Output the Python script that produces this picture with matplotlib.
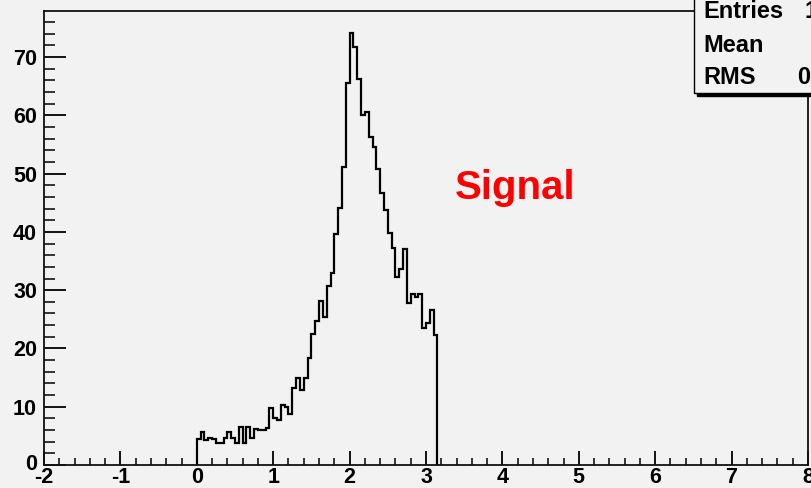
import numpy as np
import matplotlib
matplotlib.use("Agg")
import matplotlib.pyplot as plt
import matplotlib.transforms as mtransforms
from matplotlib.patches import Rectangle
from matplotlib.ticker import MultipleLocator

# Histogram definition: bins of width 0.05 starting at 0
bin_start = 0.0
bin_width = 0.05
counts = [4.4, 5.6, 4.3, 4.7, 4.5, 3.7, 3.7, 4.7, 5.6, 4.7,
          3.7, 6.6, 3.7, 6.6, 4.7, 6.2, 6.0, 6.0, 6.4, 9.7,
          8.0, 7.7, 10.3, 10.0, 8.7, 13.2, 14.9, 12.8, 14.9, 18.3,
          22.4, 24.7, 28.1, 25.4, 30.8, 33.0, 39.7, 44.1, 51.2, 65.6,
          74.2, 71.8, 66.3, 60.0, 60.6, 56.3, 54.5, 50.8, 46.6, 43.8,
          39.8, 37.2, 32.3, 33.6, 37.0, 27.8, 29.3, 28.9, 29.3, 23.5,
          24.3, 26.6, 22.3]
x_range = (-2, 8)
x_ticks = [-2, -1, 0, 1, 2, 3, 4, 5, 6, 7, 8]
y_ticks = [0, 10, 20, 30, 40, 50, 60, 70]
stat_names = ["Entries", "Mean", "RMS"]
title_text = "Signal"

counts = np.asarray(counts)
edges = bin_start + bin_width * np.arange(len(counts) + 1)
centers = 0.5 * (edges[:-1] + edges[1:])
entries = int(round(counts.sum()))
mean = np.sum(counts * centers) / counts.sum()
rms = np.sqrt(np.sum(counts * (centers - mean) ** 2) / counts.sum())

bg = "#f2f2f2"
W, H = 811, 488
fig = plt.figure(figsize=(W / 100, H / 100), dpi=100, facecolor=bg)
ax = fig.add_axes([44 / W, 1 - 465 / H, (808 - 44) / W, (465 - 11) / H])
ax.set_facecolor(bg)

ax.stairs(counts, edges, baseline=0, color="black", linewidth=1.6)

ax.set_xlim(*x_range)
ax.set_ylim(0, counts.max() * 1.05)
ax.set_xticks(x_ticks)
ax.set_yticks(y_ticks)
ax.xaxis.set_minor_locator(MultipleLocator(0.2))
ax.yaxis.set_minor_locator(MultipleLocator(2))

for s in ax.spines.values():
    s.set_linewidth(1.3)
    s.set_color("#111111")

lab_font = dict(family="Liberation Sans", weight="bold", size=15.5)
ax.tick_params(axis="x", which="major", direction="in", length=10, width=1.3, pad=1.5)
ax.tick_params(axis="x", which="minor", direction="in", length=5, width=1.1)
ax.tick_params(axis="y", which="major", direction="in", length=16, width=1.3, pad=5)
ax.tick_params(axis="y", which="minor", direction="in", length=8, width=1.1)
ax.set_xticklabels([str(t) for t in x_ticks], **lab_font)
ax.set_yticklabels([str(t) for t in y_ticks], **lab_font)

# Lift the lowest y label a little so it clears the x labels
zero_lab = ax.get_yticklabels()[0]
zero_lab.set_transform(zero_lab.get_transform() +
                       mtransforms.ScaledTranslation(0, 3 / 100, fig.dpi_scale_trans))

# Red annotation
ax.text(455 / W, 1 - 199 / H, title_text, transform=fig.transFigure,
        color="#ff0000", fontsize=29, family="Liberation Sans", weight="bold",
        ha="left", va="baseline")

# Statistics box (partly outside the canvas on the right)
bx0, by0 = 694 / W, 1 - 93 / H
shadow = Rectangle((bx0 + 3 / W, by0 - 3 / H), 0.3, 0.3, transform=fig.transFigure,
                   facecolor="black", edgecolor="black", zorder=5)
box = Rectangle((bx0, by0), 0.3, 0.3, transform=fig.transFigure,
                facecolor=bg, edgecolor="black", linewidth=1.0, zorder=6)
fig.add_artist(shadow)
fig.add_artist(box)

stat_font = dict(family="Liberation Sans", weight="bold", size=17, zorder=7)
rows_y = [12, 45, 78]
values = [f"{entries}", f"{mean:.4g}", f"{rms:.4g}"]
value_x = [804, 815, 797]
for name, yv, val, vx in zip(stat_names, rows_y, values, value_x):
    fig.text(703 / W, 1 - yv / H, name, ha="left", va="center", **stat_font)
    fig.text(vx / W, 1 - yv / H, val, ha="left", va="center", **stat_font)

fig.savefig("out.png", dpi=100, facecolor=bg)
